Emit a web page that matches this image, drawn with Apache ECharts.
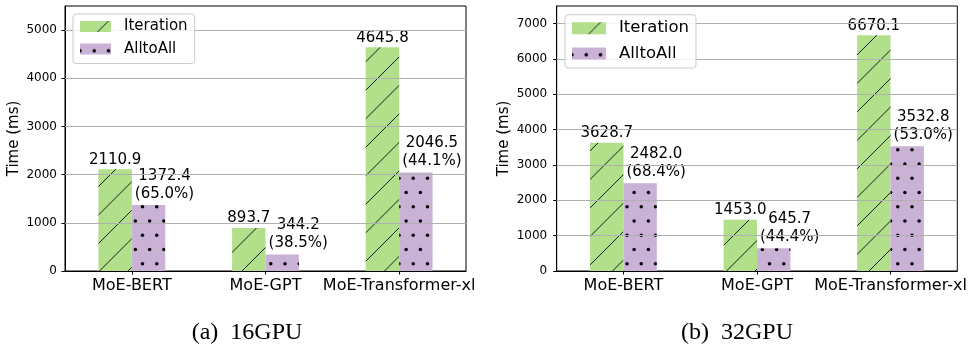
<!DOCTYPE html>
<html><head><meta charset="utf-8">
<script src="https://cdn.jsdelivr.net/npm/echarts@6/dist/echarts.min.js"></script>
<style>html,body{margin:0;padding:0;background:#fff}#c{width:979px;height:355px}</style>
</head><body><div id="c"></div>
<script>
// ---- data ----
const categories = ['MoE-BERT', 'MoE-GPT', 'MoE-Transformer-xl'];
const seriesNames = ['Iteration', 'AlltoAll'];
const iter16 = [2110.9, 893.7, 4645.8];
const a2a16 = [1372.4, 344.2, 2046.5];
const iter32 = [3628.7, 1453.0, 6670.1];
const a2a32 = [2482.0, 645.7, 3532.8];
const yTicks16 = [0, 1000, 2000, 3000, 4000, 5000];
const yTicks32 = [0, 1000, 2000, 3000, 4000, 5000, 6000, 7000];
const yMax16 = 5500;
const yMax32 = 7500;
const yName = 'Time (ms)';
const captions = ['(a)  16GPU', '(b)  32GPU'];

// ---- patterns ----
const GREEN = '#b2df8a', PURPLE = '#cab2d6';
function hatchCanvas() {
  const s = 57, c = document.createElement('canvas');
  c.width = s; c.height = s;
  const g = c.getContext('2d');
  g.fillStyle = GREEN; g.fillRect(0, 0, s, s);
  g.strokeStyle = '#1c1c1c'; g.lineWidth = 1;
  g.beginPath();
  for (let k = -s; k <= s; k += s / 2) { g.moveTo(k, s); g.lineTo(k + s, 0); }
  g.stroke();
  return c;
}
function dotCanvas() {
  const s = 57, st = s / 4, c = document.createElement('canvas');
  c.width = s; c.height = s;
  const g = c.getContext('2d');
  g.fillStyle = PURPLE; g.fillRect(0, 0, s, s);
  g.fillStyle = '#000';
  for (let j = 0; j < 4; j++) {
    const y = j * st + st / 2;
    for (let i = 0; i <= 4; i++) {
      const x = i * st + (j % 2 ? st / 2 : 0);
      g.beginPath(); g.arc(x, y, 1.75, 0, Math.PI * 2); g.fill();
    }
  }
  return c;
}
const greenPat = { image: hatchCanvas(), repeat: 'repeat' };
const purplePat = { image: dotCanvas(), repeat: 'repeat' };

const FONT = 'DejaVu Sans';
const grids = [
  { left: 65, top: 6, width: 401, height: 265 },
  { left: 556.7, top: 6, width: 400.6, height: 265 }
];

function xAxisCfg(i) {
  return {
    type: 'category', gridIndex: i, data: categories,
    axisLine: { show: true, lineStyle: { color: '#000', width: 1 } },
    axisTick: { show: true, alignWithLabel: true, length: 3.5, lineStyle: { color: '#000' } },
    axisLabel: { interval: 0, fontSize: 16, fontFamily: FONT, color: '#000', margin: 7 },
    splitLine: { show: false }
  };
}
function yAxisCfg(i, max, ticks, gap, margin) {
  return {
    type: 'value', gridIndex: i, min: 0, max: max,
    name: yName, nameLocation: 'middle', nameGap: gap,
    nameTextStyle: { fontSize: 15, fontFamily: FONT, color: '#000' },
    axisLine: { show: true, lineStyle: { color: '#000', width: 1 } },
    axisTick: { show: true, length: 3.5, customValues: ticks, lineStyle: { color: '#000' } },
    axisLabel: { fontSize: 12, fontFamily: FONT, color: '#000', margin: margin, customValues: ticks,
      formatter: v => String(v) },
    splitLine: { show: false }
  };
}
function seriesPair(i, iter, a2a, ticks) {
  return [
    {
      name: seriesNames[0], type: 'bar', xAxisIndex: i, yAxisIndex: i, data: iter,
      barWidth: '25%', barGap: '0%',
      itemStyle: { color: greenPat },
      label: { show: true, position: 'top', distance: 2, fontSize: 15, fontFamily: FONT, color: '#000',
        formatter: p => iter[p.dataIndex].toFixed(1) }
    },
    {
      name: seriesNames[1], type: 'bar', xAxisIndex: i, yAxisIndex: i, data: a2a,
      barWidth: '25%', barGap: '0%',
      itemStyle: { color: purplePat },
      label: { show: true, position: 'top', distance: 2, fontSize: 15, lineHeight: 18, fontFamily: FONT,
        color: '#000', align: 'center', offset: [16, 0],
        formatter: p => a2a[p.dataIndex].toFixed(1) + '\n(' + (a2a[p.dataIndex] / iter[p.dataIndex] * 100).toFixed(1) + '%)' },
      markLine: {
        silent: true, symbol: 'none', animation: false, z: 3,
        label: { show: false },
        lineStyle: { color: '#b0b0b0', width: 1, type: 'solid' },
        data: ticks.filter(v => v > 0).map(v => ({ yAxis: v }))
      }
    }
  ];
}

const chart = echarts.init(document.getElementById('c'), null, { renderer: 'canvas' });
chart.setOption({
  animation: false,
  backgroundColor: '#fff',
  grid: grids.map(g => Object.assign({ show: true, borderColor: '#000', borderWidth: 1, backgroundColor: 'transparent' }, g)),
  xAxis: [xAxisCfg(0), xAxisCfg(1)],
  yAxis: [yAxisCfg(0, yMax16, yTicks16, 43.5, 8), yAxisCfg(1, yMax32, yTicks32, 45, 9.5)],
  legend: [
    { left: 73, top: 14, orient: 'vertical', icon: 'rect', itemWidth: 31, itemHeight: 11, itemGap: 7.5,
      padding: [5, 7, 7, 7], backgroundColor: 'rgba(255,255,255,0.85)', borderColor: '#cccccc', borderWidth: 1,
      borderRadius: 3, selectedMode: false, data: seriesNames,
      textStyle: { fontSize: 15, lineHeight: 15, fontFamily: FONT, color: '#000', padding: [0, 0, 0, 8] } },
    { left: 565, top: 14.7, orient: 'vertical', icon: 'rect', itemWidth: 34, itemHeight: 12, itemGap: 8.3,
      padding: [5, 7, 6, 7], backgroundColor: 'rgba(255,255,255,0.85)', borderColor: '#cccccc', borderWidth: 1,
      borderRadius: 3, selectedMode: false, data: seriesNames,
      textStyle: { fontSize: 16.5, lineHeight: 17, fontFamily: FONT, color: '#000', padding: [0, 0, 0, 8] } }
  ],
  series: [].concat(seriesPair(0, iter16, a2a16, yTicks16), seriesPair(1, iter32, a2a32, yTicks32)),
  graphic: [
    { type: 'text', x: 247, y: 332.5, style: { text: captions[0], font: '24px "Liberation Serif"', fill: '#000', textAlign: 'center', textVerticalAlign: 'middle' } },
    { type: 'text', x: 737, y: 332.5, style: { text: captions[1], font: '24px "Liberation Serif"', fill: '#000', textAlign: 'center', textVerticalAlign: 'middle' } }
  ]
});
</script>
</body></html>
